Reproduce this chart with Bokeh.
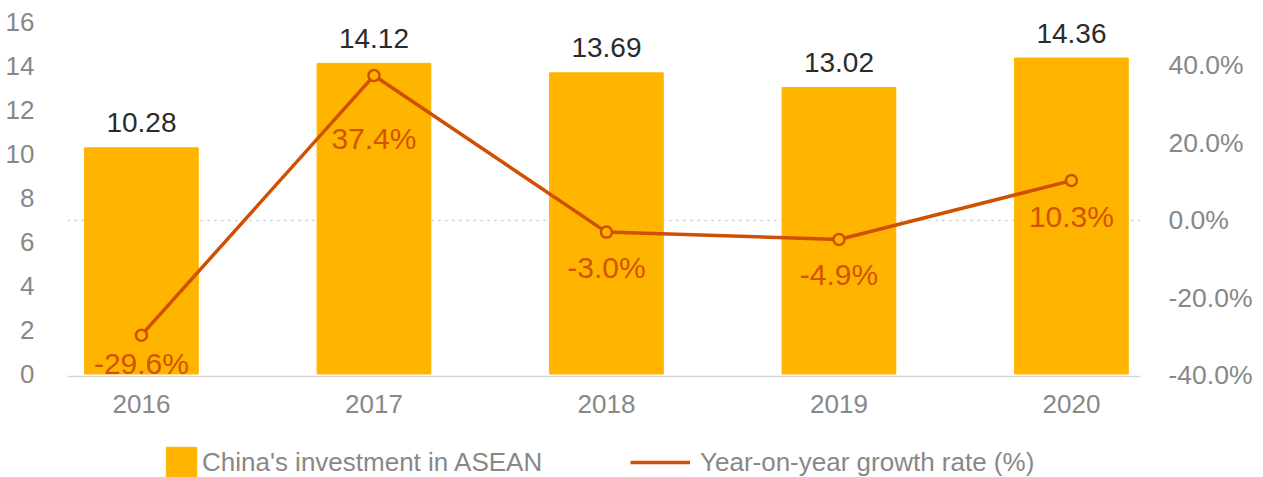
from bokeh.plotting import figure
from bokeh.layouts import column
from bokeh.models import (Range1d, LinearAxis, FixedTicker, PrintfTickFormatter,
                          ColumnDataSource, LabelSet, Span, Legend, LegendItem)
from bokeh.core.properties import value
from bokeh.embed import file_html
from bokeh.resources import INLINE

# ---- data ----
years = ["2016", "2017", "2018", "2019", "2020"]
investment = [10.28, 14.12, 13.69, 13.02, 14.36]
growth = [-29.6, 37.4, -3.0, -4.9, 10.3]

left_ticks = [0, 2, 4, 6, 8, 10, 12, 14, 16]
right_ticks = [-40, -20, 0, 20, 40]

series_names = ["China's investment in ASEAN", "Year-on-year growth rate (%)"]

# ---- style ----
FONT = "Liberation Sans"
BAR = "#FFB400"
LINE = "#CF5000"
PCT_TXT = "#D35400"
AXIS_TXT = "#888888"
W = 1255
BL, BR = 67, 115

x = list(range(len(years)))
src = ColumnDataSource(dict(
    x=x, inv=investment, g=growth,
    inv_lbl=["%.2f" % v for v in investment],
    g_lbl=["%.1f%%" % v for v in growth],
    g_off=[-28, -63, -35, -35, -36],
))

p = figure(width=W, height=422, output_backend="svg", toolbar_location=None,
           x_range=Range1d(-0.318, 4.297), y_range=Range1d(-0.114, 16.614),
           min_border_left=BL, min_border_right=BR, min_border_top=8,
           min_border_bottom=46)
p.outline_line_color = None
p.xgrid.visible = False
p.ygrid.visible = False
p.extra_y_ranges = {"pct": Range1d(-40.26, 54.71)}

# zero line for growth axis (behind bars)
p.add_layout(Span(location=0, dimension="width", y_range_name="pct",
                  line_color="#c8c8c8", line_width=1.3, line_dash="2 5",
                  level="underlay"))

p.vbar(x="x", top="inv", width=0.489, source=src, color=BAR)
p.line(x="x", y="g", source=src, y_range_name="pct", line_color=LINE,
       line_width=3.5)
p.scatter(x="x", y="g", source=src, y_range_name="pct", size=11,
          line_color=LINE, line_width=2.5, fill_color=BAR)

p.add_layout(LabelSet(x="x", y="inv", text="inv_lbl", source=src,
                      text_align="center", text_baseline="middle",
                      y_offset=25, text_font=value(FONT), text_font_size="28px",
                      text_color="#2b2b2b"))
p.add_layout(LabelSet(x="x", y="g", text="g_lbl", source=src,
                      y_range_name="pct", text_align="center",
                      text_baseline="middle", y_offset="g_off",
                      text_font=value(FONT), text_font_size="30px",
                      text_color=PCT_TXT))

# axes
xa = p.xaxis[0]
xa.ticker = FixedTicker(ticks=x)
xa.major_label_overrides = {i: y for i, y in zip(x, years)}
xa.axis_line_color = "#d6d6d6"
xa.axis_line_width = 1.5
xa.major_tick_line_color = None
xa.minor_tick_line_color = None
xa.major_label_text_font = FONT
xa.major_label_text_font_size = "26px"
xa.major_label_text_color = AXIS_TXT
xa.major_label_standoff = 12

ya = p.yaxis[0]
ya.ticker = FixedTicker(ticks=left_ticks)
ya.axis_line_color = None
ya.major_tick_line_color = None
ya.minor_tick_line_color = None
ya.major_label_text_font = FONT
ya.major_label_text_font_size = "26px"
ya.major_label_text_color = AXIS_TXT
ya.major_label_standoff = 27

ra = LinearAxis(y_range_name="pct", ticker=FixedTicker(ticks=right_ticks),
                formatter=PrintfTickFormatter(format="%.1f%%"))
ra.axis_line_color = None
ra.major_tick_line_color = None
ra.minor_tick_line_color = None
ra.major_label_text_font = FONT
ra.major_label_text_font_size = "26.5px"
ra.major_label_text_color = AXIS_TXT
ra.major_label_standoff = 22
p.add_layout(ra, "right")

# ---- legend strip (proxy renderers kept out of its visible range) ----
lf = figure(width=W, height=55, output_backend="svg", toolbar_location=None,
            x_range=Range1d(-0.318, 4.297), y_range=Range1d(1000, 1001),
            min_border_left=BL, min_border_right=BR, min_border_top=0,
            min_border_bottom=0)
lf.outline_line_color = None
lf.axis.visible = False
lf.grid.visible = False
lb = lf.vbar(x="x", top="inv", width=0.489, source=src, color=BAR)
ll = lf.line(x="x", y="g", source=src, line_color=LINE, line_width=3.5)

def make_legend(name, rend, loc, gw, gh, standoff):
    lg = Legend(items=[LegendItem(label=name, renderers=[rend])], location=loc,
                orientation="horizontal",
                glyph_width=gw, glyph_height=gh, label_standoff=standoff,
                padding=0, margin=0, spacing=0,
                border_line_alpha=0, background_fill_alpha=0,
                label_text_font=FONT, label_text_font_size="26px",
                label_text_color=AXIS_TXT)
    lf.add_layout(lg, "center")

make_legend(series_names[0], lb, (95, -4), 38, 38, 2)
make_legend(series_names[1], ll, (563, -4), 60, 38, 10)

open("out.html", "w").write(file_html(column(p, lf), INLINE))
